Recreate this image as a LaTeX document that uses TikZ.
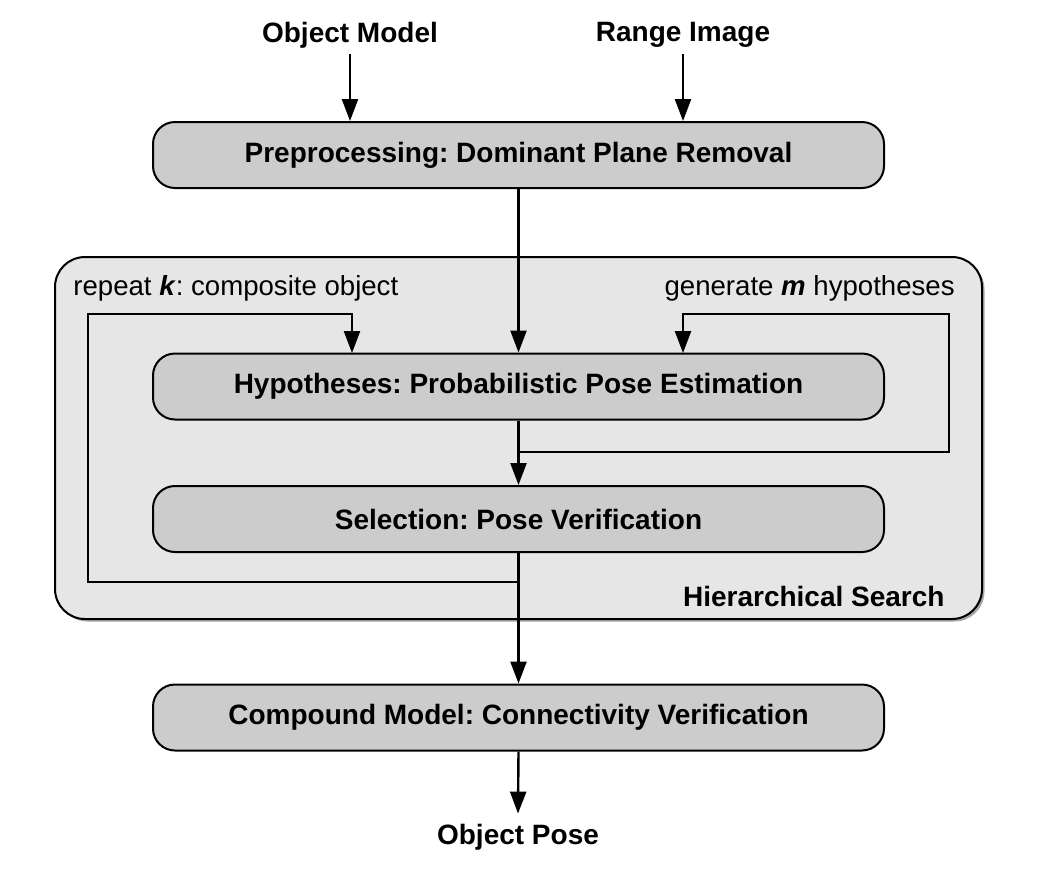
\documentclass[tikz,border=0pt]{standalone}
\usepackage{fontspec}
\setmainfont{Liberation Sans}
\usetikzlibrary{arrows.meta,calc}
\definecolor{boxfill}{HTML}{CCCCCC}
\definecolor{hsfill}{HTML}{E6E6E6}
\begin{document}
\frenchspacing
\begin{tikzpicture}[x=0.5pt,y=-0.5pt,
  stepbox/.style={draw=black,line width=1pt,fill=boxfill,rounded corners=11pt,
    minimum width=365.5pt,minimum height=33pt,inner sep=0pt,
    font=\fontsize{14}{16}\selectfont\bfseries},
  title/.style={font=\fontsize{14}{16}\selectfont\bfseries,inner sep=0pt},
  lab/.style={font=\fontsize{13.8}{16}\selectfont,inner sep=0pt},
  arr/.style={line width=1.2pt,-{Triangle[length=11pt,width=8pt]}},
  ln/.style={line width=1.2pt}]
\useasboundingbox (0,0) rectangle (1040,874);
% hierarchical search background
\node[fill=gray!70,rounded corners=15pt,
  minimum width=463.5pt,minimum height=181pt,inner sep=0pt] (hsshadow) at (521,440.5) {};
\node[draw=black,line width=1pt,fill=hsfill,rounded corners=15pt,
  minimum width=463.5pt,minimum height=181pt,inner sep=0pt] (hs) at (518.5,438) {};
\node[title,anchor=south east] (hslab) at (945,607) {Hierarchical Search};
\node[lab,anchor=west] (rk) at (73,288) {repeat \textbf{\textit{k}}: composite object};
\node[lab,anchor=east] (gm) at (955,288) {generate \textbf{\textit{m}} hypotheses};

\node[title] (om) at (350,35) {Object Model};
\node[title] (ri) at (683,35) {Range Image};
\node[stepbox] (pre) at (518.5,155) {Preprocessing: Dominant Plane Removal};
\node[stepbox] (hyp) at (518.5,386.5) {Hypotheses: Probabilistic Pose Estimation};
\node[stepbox] (sel) at (518.5,519) {Selection: Pose Verification};
\node[stepbox] (comp) at (518.5,717.5) {Compound Model: Connectivity Verification};
\node[title] (op) at (518,837) {Object Pose};

\coordinate (j1) at (518.5,452);
\coordinate (j2) at (518.5,582);
\coordinate (rr) at (949,314);
\coordinate (ll) at (88,314);

\draw[arr] ($(om.south)+(0,6)$) -- (om.south |- pre.north);
\draw[arr] ($(ri.south)+(0,6)$) -- (ri.south |- pre.north);
\draw[arr] (pre.south) -- (hyp.north);
\draw[ln] (hyp.south) -- (j1);
\draw[arr] (j1) -- (rr |- j1) -- (rr) -- (683,314) -- (683,353);
\draw[arr] (j1) -- (sel.north);
\draw[ln] (sel.south) -- (j2);
\draw[arr] (j2) -- (ll |- j2) -- (ll) -- (352,314) -- (352,353);
\draw[arr] (j2) -- (comp.north);
\draw[arr] (comp.south) -- ($(op.north)+(0,-10)$);
\end{tikzpicture}
\end{document}
